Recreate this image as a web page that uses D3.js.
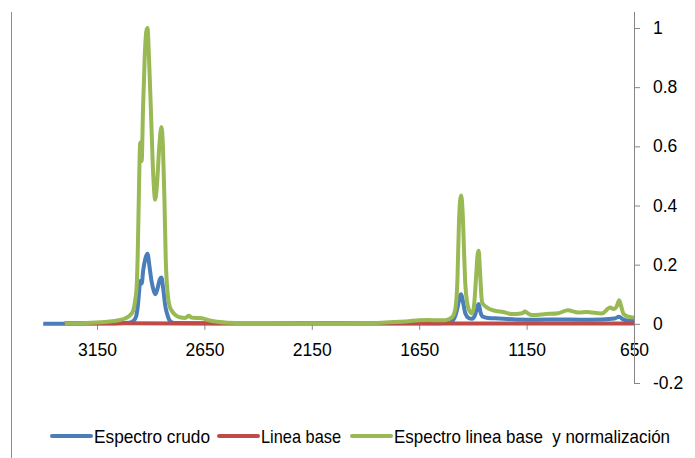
<!DOCTYPE html>
<html>
<head>
<meta charset="utf-8">
<script src="https://cdn.jsdelivr.net/npm/d3@7"></script>
<style>
  body { margin: 0; background: #fff; }
  text { font-family: 'Liberation Sans', Arial, sans-serif; fill: #000; }
</style>
</head>
<body>
<svg></svg>
<script>
// wavenumbers (cm-1) and absorbance
var crudoX = [3400, 3300, 3100, 3000, 2980, 2968, 2960, 2955, 2950, 2946, 2942, 2935, 2925, 2915, 2905, 2895, 2885, 2878, 2868, 2858, 2850, 2842, 2832, 2824, 2815, 2805, 2790, 2600, 2000, 1550, 1500, 1482, 1470, 1462, 1454, 1445, 1435, 1420, 1404, 1390, 1380, 1373, 1365, 1355, 1330, 1280, 1200, 1100, 1000, 900, 800, 740, 720, 700, 670, 650]
var crudoY = [0, 0, 0.001, 0.004, 0.01, 0.025, 0.06, 0.1, 0.14, 0.146, 0.136, 0.18, 0.22, 0.237, 0.19, 0.14, 0.11, 0.1, 0.12, 0.15, 0.157, 0.12, 0.06, 0.035, 0.015, 0.006, 0.003, 0.002, 0.002, 0.002, 0.008, 0.027, 0.06, 0.09, 0.1, 0.07, 0.035, 0.02, 0.017, 0.03, 0.055, 0.067, 0.04, 0.025, 0.02, 0.018, 0.015, 0.014, 0.015, 0.014, 0.015, 0.018, 0.024, 0.015, 0.01, 0.01]

var baseX = [3300, 3000, 2500, 2000, 1500, 1000, 650]
var baseY = [0.002, 0.002, 0.001, 0.001, 0.001, 0.001, 0.001]

var normX = [3300, 3200, 3100, 3050, 3020, 2995, 2982, 2972, 2965, 2960, 2956, 2952, 2949, 2945, 2942, 2936, 2928, 2920, 2915, 2908, 2898, 2888, 2879, 2870, 2860, 2850, 2843, 2836, 2830, 2822, 2812, 2800, 2785, 2765, 2740, 2722, 2710, 2690, 2661, 2630, 2590, 2544, 2400, 2200, 2000, 1850, 1767, 1700, 1650, 1610, 1560, 1528, 1497, 1482, 1472, 1465, 1459, 1454, 1448, 1440, 1435, 1420, 1404, 1395, 1385, 1378, 1373, 1367, 1360, 1357, 1334, 1295, 1260, 1219, 1170, 1158, 1145, 1126, 1060, 1002, 959, 909, 870, 847, 800, 761, 745, 730, 719, 710, 698, 675, 650]
var normY = [0.001, 0.003, 0.007, 0.012, 0.018, 0.03, 0.044, 0.08, 0.13, 0.25, 0.4, 0.55, 0.61, 0.615, 0.55, 0.72, 0.9, 0.99, 1, 0.9, 0.7, 0.5, 0.42, 0.48, 0.6, 0.665, 0.6, 0.42, 0.22, 0.11, 0.06, 0.042, 0.03, 0.022, 0.02, 0.027, 0.021, 0.02, 0.019, 0.012, 0.007, 0.004, 0.003, 0.002, 0.002, 0.003, 0.006, 0.009, 0.012, 0.013, 0.012, 0.012, 0.022, 0.05, 0.15, 0.34, 0.42, 0.434, 0.38, 0.22, 0.13, 0.05, 0.035, 0.06, 0.16, 0.235, 0.247, 0.18, 0.09, 0.072, 0.055, 0.044, 0.04, 0.033, 0.036, 0.042, 0.036, 0.03, 0.033, 0.036, 0.046, 0.038, 0.04, 0.038, 0.035, 0.055, 0.05, 0.06, 0.08, 0.06, 0.033, 0.024, 0.021]

var xTicks = [3150, 2650, 2150, 1650, 1150, 650]
var yTicks = [-0.2, 0, 0.2, 0.4, 0.6, 0.8, 1]
var legendLabels = ['Espectro crudo', 'Linea base', 'Espectro linea base  y normalización']
var colors = ['#4a7ebb', '#be4b48', '#98b954']

var width = 695
var height = 458

var x = d3.scaleLinear().domain([3400, 650]).range([43.3, 634])
var y = d3.scaleLinear().domain([-0.2, 1]).range([383, 28])

var svg = d3.select('svg').attr('width', width).attr('height', height)

// left border of the chart area
svg.append('line')
  .attr('x1', 11.5).attr('x2', 11.5)
  .attr('y1', 12).attr('y2', height)
  .attr('stroke', '#8c8c8c')

// x axis along y = 0
var xAxis = g =>
  g.attr('transform', `translate(0,${y(0)})`)
    .call(d3.axisBottom(x).tickValues(xTicks).tickSize(6).tickPadding(14).tickFormat(d3.format('d')))
    .call(g => g.select('.domain').attr('stroke', '#868686').attr('d', `M${x(3400)},0.5H${x(650)}`))
    .call(g => g.selectAll('.tick line').attr('stroke', '#868686'))
    .call(g => g.selectAll('.tick text').attr('font-size', 17.5).attr('font-family', 'Liberation Sans, Arial, sans-serif').attr('fill', '#000'))

// y axis on the right
var yAxis = g =>
  g.attr('transform', `translate(${x(650)},0)`)
    .call(d3.axisRight(y).tickValues(yTicks).tickSize(6).tickPadding(13).tickFormat(d => d === 0 || d === 1 ? d : d.toFixed(1)))
    .call(g => g.select('.domain').attr('stroke', '#868686').attr('d', 'M0.5,12V383.5'))
    .call(g => g.selectAll('.tick line').attr('stroke', '#868686'))
    .call(g => g.selectAll('.tick text').attr('font-size', 17.5).attr('font-family', 'Liberation Sans, Arial, sans-serif').attr('fill', '#000'))

svg.append('g').call(xAxis)
svg.append('g').call(yAxis)

var line = d3.line()
  .x(d => x(d[0]))
  .y(d => y(d[1]))
  .curve(d3.curveMonotoneX)

var series = [
  d3.zip(crudoX, crudoY),
  d3.zip(baseX, baseY),
  d3.zip(normX, normY)
]

svg.append('g')
  .selectAll('path')
  .data(series)
  .enter()
  .append('path')
  .attr('d', line)
  .attr('fill', 'none')
  .attr('stroke', (d, i) => colors[i])
  .attr('stroke-width', 4)
  .attr('stroke-linejoin', 'round')

// legend
var legendX = [52, 219, 352]
var legendW = [116, 80, 276]
var legend = svg.append('g').selectAll('g')
  .data(legendLabels)
  .enter()
  .append('g')
  .attr('transform', (d, i) => `translate(${legendX[i]},436)`)

legend.append('line')
  .attr('x1', 0).attr('x2', 39)
  .attr('stroke', (d, i) => colors[i])
  .attr('stroke-width', 4)
  .attr('stroke-linecap', 'round')

legend.append('text')
  .attr('x', 42)
  .attr('y', 6.5)
  .attr('font-size', 18.5)
  .style('white-space', 'pre')
  .attr('textLength', (d, i) => legendW[i])
  .attr('lengthAdjust', 'spacingAndGlyphs')
  .text(d => d)
</script>
</body>
</html>
